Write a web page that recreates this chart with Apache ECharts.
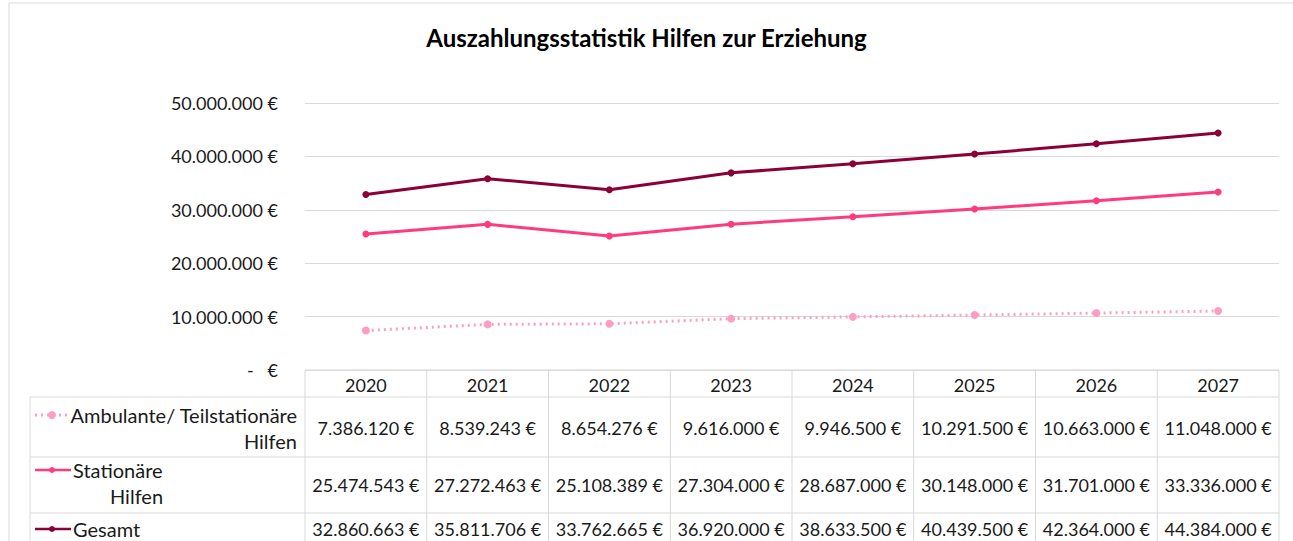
<!DOCTYPE html>
<html>
<head>
<meta charset="utf-8">
<script src="https://cdn.jsdelivr.net/npm/echarts@6/dist/echarts.min.js"></script>
<style>
  html, body { margin: 0; padding: 0; background: #fff; }
  #chart { width: 1293px; height: 541px; }
</style>
</head>
<body>
<div id="chart"></div>
<script>
// data
var years = ['2020', '2021', '2022', '2023', '2024', '2025', '2026', '2027'];
var ambulante = [7386120, 8539243, 8654276, 9616000, 9946500, 10291500, 10663000, 11048000];
var stationaer = [25474543, 27272463, 25108389, 27304000, 28687000, 30148000, 31701000, 33336000];
var gesamt = [32860663, 35811706, 33762665, 36920000, 38633500, 40439500, 42364000, 44384000];

var FONT = 'Lato';
var FS = 18;
var TXT = '#1a1a1a';
var C_AMB = '#ff9ec4';
var C_STA = '#ff3b7e';
var C_GES = '#8c0038';
var BORDER = '#d9d9d9';

function euro(v) {
    if (v === 0) return '-\u00a0\u00a0\u00a0€';
    return String(Math.round(v)).replace(/\B(?=(\d{3})+(?!\d))/g, '.') + ' €';
}

var myChart = echarts.init(document.getElementById('chart'), null, { renderer: 'svg' });

// table geometry (matches the grid below)
var gLeft = 305, gRight = 1279, gBottom = 370;
var colW = (gRight - gLeft) / years.length;
var rowTops = [397, 457, 513];
var labelLeft = 30;

var graphics = [];
// outer chart frame
graphics.push({ type: 'rect', shape: { x: 9, y: 3, width: 1300, height: 600 },
    style: { fill: 'none', stroke: BORDER, lineWidth: 1 }, silent: true });

// header row box + column separators
graphics.push({ type: 'line', shape: { x1: gLeft, y1: gBottom, x2: gRight, y2: gBottom }, style: { stroke: BORDER } });
for (var i = 0; i <= years.length; i++) {
    var x = gLeft + i * colW;
    graphics.push({ type: 'line', shape: { x1: x, y1: gBottom, x2: x, y2: 541 }, style: { stroke: BORDER } });
}
graphics.push({ type: 'line', shape: { x1: labelLeft, y1: rowTops[0], x2: labelLeft, y2: 541 }, style: { stroke: BORDER } });
for (var r = 0; r < 3; r++) {
    graphics.push({ type: 'line', shape: { x1: labelLeft, y1: rowTops[r], x2: gRight, y2: rowTops[r] }, style: { stroke: BORDER } });
}

// value cells
var rows = [ambulante, stationaer, gesamt];
var rowTextY = [428, 485, 529];
rows.forEach(function (vals, r) {
    vals.forEach(function (v, c) {
        graphics.push({ type: 'text', x: gLeft + (c + 0.5) * colW, y: rowTextY[r],
            style: { text: euro(v), font: FS + 'px ' + FONT, fill: TXT, align: 'center', verticalAlign: 'middle' } });
    });
});

// legend keys inside the table
var keyY = [415, 470, 529];
var keyColors = [C_AMB, C_STA, C_GES];
keyY.forEach(function (y, r) {
    graphics.push({ type: 'line', shape: { x1: 35, y1: y, x2: 71, y2: y },
        style: { stroke: keyColors[r], lineWidth: r === 0 ? 3 : 2.5, lineDash: r === 0 ? [2, 4] : null } });
    graphics.push({ type: 'circle', shape: { cx: 52, cy: y, r: r === 0 ? 4 : 3 }, style: { fill: keyColors[r] } });
});
function label(t, x, y, align) {
    graphics.push({ type: 'text', x: x, y: y,
        style: { text: t, font: '20px ' + FONT, fill: TXT, align: align, verticalAlign: 'middle' } });
}
label('Ambulante/ Teilstationäre', 297, 415, 'right');
label('Hilfen', 297, 441, 'right');
label('Stationäre', 73, 470, 'left');
label('Hilfen', 110, 496, 'left');
label('Gesamt', 73, 529, 'left');

var option = {
    backgroundColor: '#fff',
    animation: false,
    title: {
        text: 'Auszahlungsstatistik Hilfen zur Erziehung',
        left: 'center',
        top: 20,
        textStyle: { fontFamily: FONT, fontSize: 24, fontWeight: 'bold', color: '#000' }
    },
    grid: { left: gLeft, right: 1293 - gRight, top: 103, bottom: 541 - gBottom },
    xAxis: {
        type: 'category',
        data: years,
        boundaryGap: true,
        axisLine: { show: false },
        axisTick: { show: false },
        axisLabel: { fontFamily: FONT, fontSize: FS, color: TXT, margin: 6 }
    },
    yAxis: {
        type: 'value',
        min: 0,
        max: 50000000,
        interval: 10000000,
        axisLine: { show: false },
        axisTick: { show: false },
        splitLine: { lineStyle: { color: BORDER, width: 1 } },
        axisLabel: { fontFamily: FONT, fontSize: FS, color: TXT, margin: 27, formatter: euro }
    },
    series: [
        {
            name: 'Ambulante/ Teilstationäre Hilfen',
            type: 'line',
            data: ambulante,
            symbol: 'circle',
            symbolSize: 8,
            itemStyle: { color: C_AMB },
            lineStyle: { color: C_AMB, width: 3, type: [2, 4] }
        },
        {
            name: 'Stationäre Hilfen',
            type: 'line',
            data: stationaer,
            symbol: 'circle',
            symbolSize: 7,
            itemStyle: { color: C_STA },
            lineStyle: { color: C_STA, width: 3 }
        },
        {
            name: 'Gesamt',
            type: 'line',
            data: gesamt,
            symbol: 'circle',
            symbolSize: 7,
            itemStyle: { color: C_GES },
            lineStyle: { color: C_GES, width: 3 }
        }
    ],
    graphic: graphics
};

myChart.setOption(option);
</script>
</body>
</html>
